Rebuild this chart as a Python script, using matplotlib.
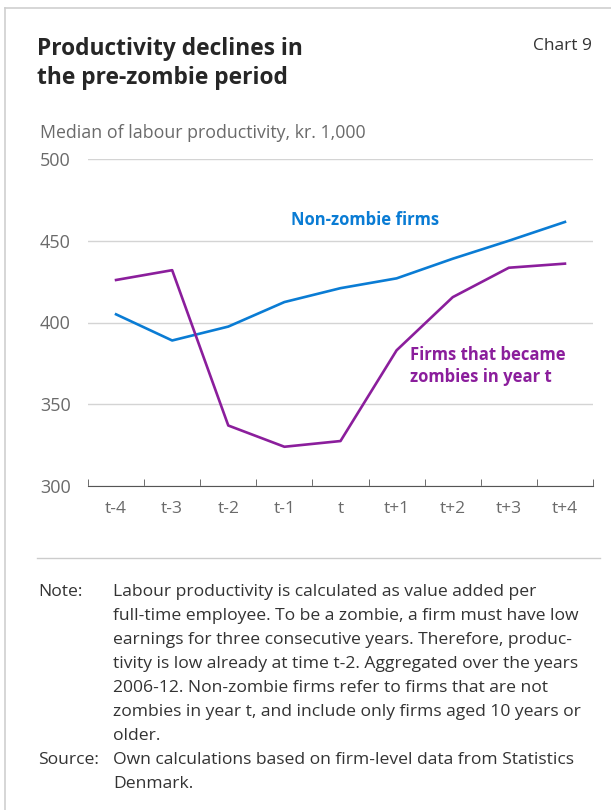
import matplotlib.pyplot as plt
from matplotlib.lines import Line2D

plt.rcParams['font.family'] = ['Open Sans', 'DejaVu Sans']

periods = ["t-4", "t-3", "t-2", "t-1", "t", "t+1", "t+2", "t+3", "t+4"]
non_zombie = [405, 389, 397.5, 412.5, 421, 427, 439, 450, 461.5]
zombie = [426, 432, 337, 324, 327.5, 383, 415.5, 433.5, 436]

blue = "#0A7CD4"
purple = "#8B1E9C"
grey = "#6a6a6a"
dark = "#333333"

W, H = 611, 810


def fx(px):
    return px / W


def fy(py):
    return 1 - py / H


fig = plt.figure(figsize=(6.11, 8.10), dpi=100)

# card border (left + top)
fig.add_artist(Line2D([fx(5), fx(5)], [0, fy(8)], color="#cfcfcf", lw=1.2))
fig.add_artist(Line2D([fx(5), 1], [fy(8), fy(8)], color="#cfcfcf", lw=1.2))

title_lines = ["Productivity declines in", "the pre-zombie period"]
for i, t in enumerate(title_lines):
    fig.text(fx(37), fy(49 + 29 * i), t, fontsize=16.4, fontweight="bold",
             color="#262626", va="center")
fig.text(fx(592), fy(46), "Chart 9", fontsize=12.5, color=dark,
         ha="right", va="center")
fig.text(fx(40), fy(133), "Median of labour productivity, kr. 1,000",
         fontsize=12.8, color=grey, va="center")

ax = fig.add_axes([fx(88), fy(486), (593 - 88) / W, (486 - 159) / H])
x = list(range(len(periods)))
ax.plot(x, non_zombie, color=blue, lw=1.9)
ax.plot(x, zombie, color=purple, lw=1.9)

ax.set_xlim(-0.5, len(periods) - 0.5)
ax.set_ylim(300, 500)
ax.set_yticks([300, 350, 400, 450, 500])
ax.yaxis.grid(True, color="#d4d4d4", lw=1)
ax.set_axisbelow(True)
for s in ["top", "right", "left"]:
    ax.spines[s].set_visible(False)
ax.spines["bottom"].set_color("#555555")
ax.tick_params(axis="y", length=0, pad=34.5, labelsize=13, labelcolor=grey)
for lab in ax.get_yticklabels():
    lab.set_horizontalalignment("left")

ax.set_xticks(x)
ax.set_xticklabels(periods)
ax.set_xticks([i - 0.5 for i in range(len(periods) + 1)], minor=True)
ax.tick_params(axis="x", which="major", length=0, pad=11, labelsize=12.5,
               labelcolor=grey)
ax.tick_params(axis="x", which="minor", direction="in", length=5,
               color="#555555")

ax.text(4.44, 462.5, "Non-zombie firms", color=blue, fontsize=12,
        fontweight="bold", ha="center", va="center")
ax.text(5.24, 373.5, "Firms that became\nzombies in year t", color=purple,
        fontsize=12, fontweight="bold", ha="left", va="center",
        linespacing=1.3)

# separator and notes
fig.add_artist(Line2D([fx(37), fx(600)], [fy(558), fy(558)],
                      color="#cccccc", lw=1))
note_lines = [
    "Labour productivity is calculated as value added per",
    "full-time employee. To be a zombie, a firm must have low",
    "earnings for three consecutive years. Therefore, produc-",
    "tivity is low already at time t-2. Aggregated over the years",
    "2006-12. Non-zombie firms refer to firms that are not",
    "zombies in year t, and include only firms aged 10 years or",
    "older.",
]
source_lines = [
    "Own calculations based on firm-level data from Statistics",
    "Denmark.",
]
fig.text(fx(38), fy(592), "Note:", fontsize=12.6, color=dark, va="center")
for i, t in enumerate(note_lines):
    fig.text(fx(113), fy(592 + 24 * i), t, fontsize=12.6, color=dark,
             va="center")
fig.text(fx(38), fy(760), "Source:", fontsize=12.6, color=dark, va="center")
for i, t in enumerate(source_lines):
    fig.text(fx(113), fy(760 + 23.5 * i), t, fontsize=12.6, color=dark,
             va="center")

fig.savefig("out.png", dpi=100)
